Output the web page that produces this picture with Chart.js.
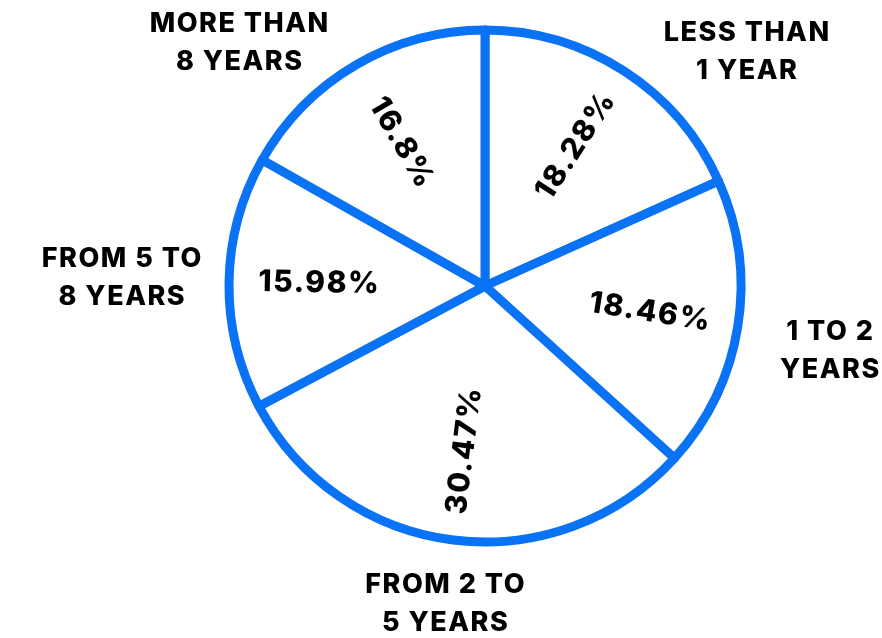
<!DOCTYPE html>
<html>
<head>
<meta charset="utf-8">
<script src="https://cdn.jsdelivr.net/npm/chart.js@4.4.1/dist/chart.umd.min.js"></script>
<style>
  html, body { margin: 0; padding: 0; background: #ffffff; }
  #wrap { width: 882px; height: 638px; }
</style>
</head>
<body>
<div id="wrap"><canvas id="chart" width="882" height="638"></canvas></div>
<script>
// data
const categories = [
  ['LESS THAN', '1 YEAR'],
  ['1 TO 2', 'YEARS'],
  ['FROM 2 TO', '5 YEARS'],
  ['FROM 5 TO', '8 YEARS'],
  ['MORE THAN', '8 YEARS']
];
const shares = [18.28, 18.46, 30.47, 15.98, 16.8];

// label placement relative to the pie centre
// angles in degrees (canvas convention, 0 = right), distances in radii
const valueLabelAngle = [null, null, null, 181, null]; // null = middle of slice
const valueLabelDist = 0.65;
const nameLabelAngle = [-41.8, 10.7, 97.2, 181.3, -135.4];
const nameLabelDist = [1.37, 1.37, 1.25, 1.42, 1.35];

const blue = '#0a72f4';
const ink = '#000000';
const fontFamily = "'Inter', 'Noto Sans', sans-serif";

/**
 * Draws the percentages along the radius and the category names outside
 */
const sliceLabels = {
  id: 'sliceLabels',
  afterDatasetsDraw(chart) {
    const { ctx } = chart;
    const arcs = chart.getDatasetMeta(0).data;
    const deg = Math.PI / 180;

    ctx.save();
    ctx.fillStyle = ink;
    ctx.textAlign = 'center';
    ctx.textBaseline = 'middle';

    arcs.forEach((arc, i) => {
      const { x, y, startAngle, endAngle, outerRadius } =
        arc.getProps(['x', 'y', 'startAngle', 'endAngle', 'outerRadius'], true);

      // percentage, written along the radius and kept readable
      const a = valueLabelAngle[i] !== null ? valueLabelAngle[i] * deg : (startAngle + endAngle) / 2;
      const r = outerRadius * valueLabelDist;
      const rot = Math.cos(a) < 0 ? a + Math.PI : a;
      ctx.save();
      ctx.translate(x + Math.cos(a) * r, y + Math.sin(a) * r);
      ctx.rotate(rot);
      ctx.font = `800 30px ${fontFamily}`;
      ctx.letterSpacing = '1.5px';
      ctx.fillText(shares[i] + '%', 0.75, 0);
      ctx.restore();

      // category name, two lines
      const b = nameLabelAngle[i] * deg;
      const d = outerRadius * nameLabelDist[i];
      const cx = x + Math.cos(b) * d;
      const cy = y + Math.sin(b) * d;
      const lines = categories[i];
      const lineHeight = 38;
      ctx.font = `800 27px ${fontFamily}`;
      ctx.letterSpacing = '1.5px';
      lines.forEach((line, k) => {
        ctx.fillText(line, cx + 0.75, cy + (k - (lines.length - 1) / 2) * lineHeight);
      });
    });

    ctx.restore();
  }
};

new Chart(document.getElementById('chart').getContext('2d'), {
  type: 'pie',
  data: {
    labels: categories.map(c => c.join(' ')),
    datasets: [{
      data: shares,
      backgroundColor: '#ffffff',
      borderColor: blue,
      borderWidth: 9,
      borderAlign: 'center',
      borderJoinStyle: 'round'
    }]
  },
  options: {
    responsive: false,
    animation: false,
    events: [],
    layout: {
      padding: { left: 224.5, right: 136.5, top: 25.5, bottom: 91.5 }
    },
    plugins: {
      legend: { display: false },
      tooltip: { enabled: false }
    }
  },
  plugins: [sliceLabels]
});
</script>
</body>
</html>
